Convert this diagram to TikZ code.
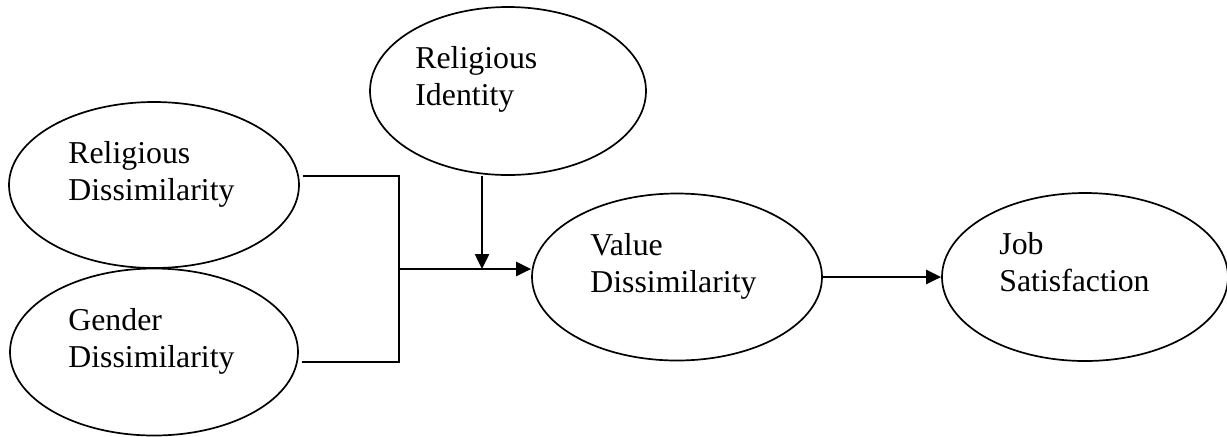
\documentclass[tikz,border=0pt]{standalone}
\usepackage{fontspec}
\setmainfont{Liberation Serif}
\usetikzlibrary{shapes.geometric,arrows.meta}
\begin{document}
\begin{tikzpicture}[x=0.5pt,y=-0.5pt,
  oval/.style={draw, ellipse, inner sep=0pt, line width=0.85pt},
  lbl/.style={anchor=north west, inner sep=0pt, align=left, font=\fontsize{15.9}{18.5}\selectfont},
  link/.style={line width=1pt},
  arr/.style={line width=1.25pt, -{Triangle[length=7.5pt,width=7pt]}}]
\useasboundingbox (0,0) rectangle (1227,436);
% ellipses
\node[oval, minimum width=145pt, minimum height=83pt] (RD) at (154,185) {};
\node[oval, minimum width=144pt, minimum height=83.5pt] (GD) at (154,352) {};
\node[oval, minimum width=138pt, minimum height=84pt] (RI) at (508,91) {};
\node[oval, minimum width=145pt, minimum height=83.5pt] (VD) at (677,277) {};
\node[oval, minimum width=143pt, minimum height=84pt] (JS) at (1085,277) {};
% texts
\node[lbl] (RDt) at (68,141.4) {Religious\\Dissimilarity};
\node[lbl] (GDt) at (68,308.4) {Gender\\Dissimilarity};
\node[lbl] (RIt) at (415,46.4) {Religious\\Identity};
\node[lbl] (VDt) at (590,233.4) {Value\\Dissimilarity};
\node[lbl] (JSt) at (999,232.4) {Job\\Satisfaction};
% connectors
\coordinate (J) at (399,269);
\coordinate (M) at (482,269);
\draw[link] ([shift={(3,-9)}]RD.east) -| (J) |- ([shift={(3,10)}]GD.east);
\draw[arr] (J) -- (J -| VD.west);
\draw[arr] (M |- RI.south) -- (M);
\draw[arr] (VD.east) -- (JS.west);
\end{tikzpicture}
\end{document}
